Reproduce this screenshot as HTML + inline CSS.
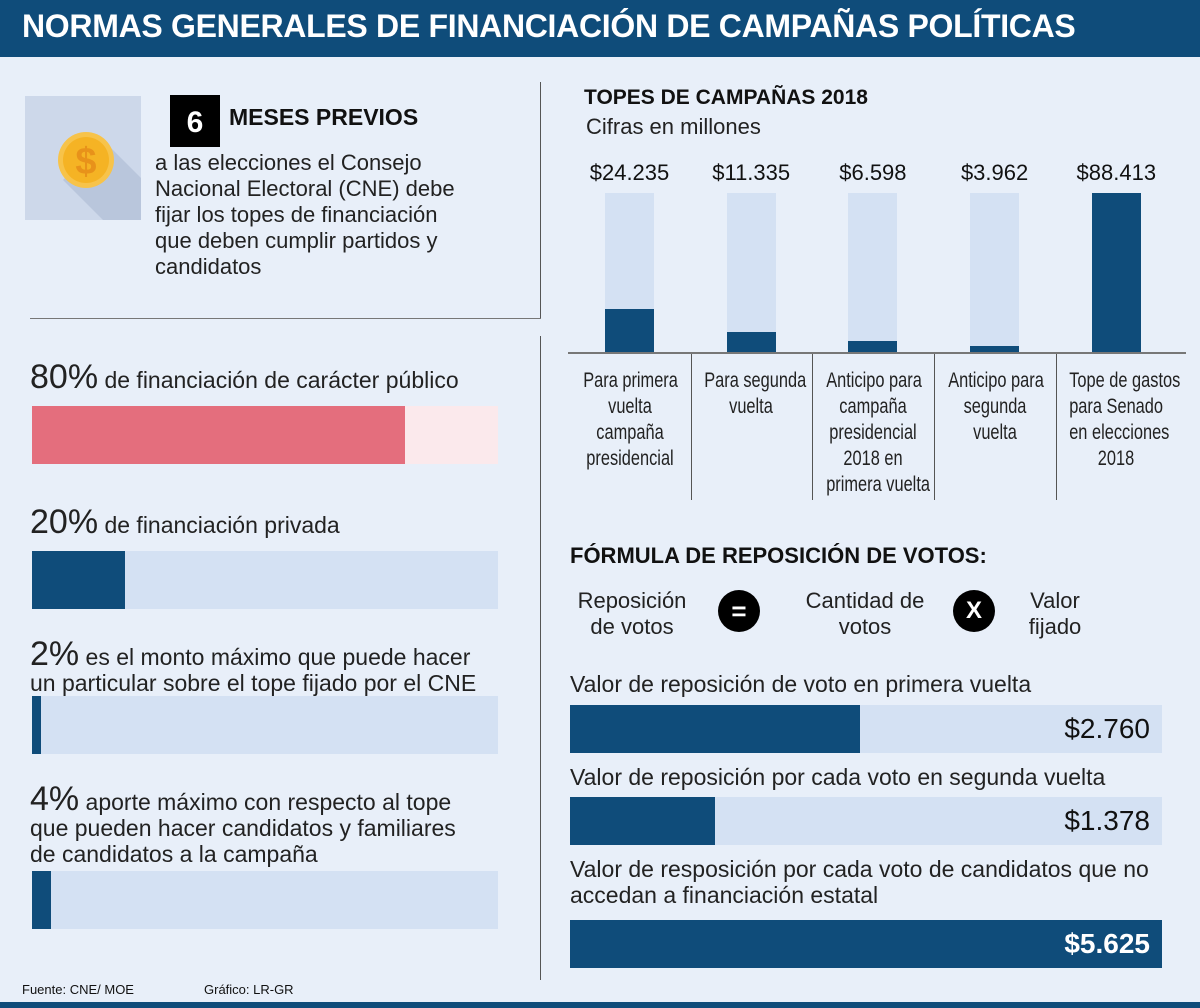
<!DOCTYPE html>
<html><head><meta charset="utf-8">
<style>
*{margin:0;padding:0;box-sizing:border-box}
body{width:1200px;height:1008px;background:#e8eff9;position:relative;overflow:hidden;font-family:"Liberation Sans",sans-serif;color:#111}
.a{position:absolute}
.hdr{left:0;top:0;width:1200px;height:57px;background:#0f4c7a;color:#fff;font-weight:bold;font-size:32px;padding:8px 0 0 22px;letter-spacing:-0.3px}
.t{font-size:22px;line-height:26px;color:#222}
.big{font-size:34px}
.lbl{font-size:21px;line-height:26px;text-align:center;color:#222;white-space:nowrap;transform:scaleX(0.78);transform-origin:50% 0}
.vl{background:#555;width:1px}
.hl{background:#777;height:1px}
</style></head><body>
<div class="a hdr">NORMAS GENERALES DE FINANCIACIÓN DE CAMPAÑAS POLÍTICAS</div>

<svg class="a" style="left:25px;top:96px" width="116" height="124" viewBox="25 96 116 124">
 <rect x="25" y="96" width="116" height="124" fill="#cdd8ea"/>
 <polygon points="103,140 63,180 163,280 203,240" fill="#b9c6dc"/>
 <circle cx="86" cy="160" r="28" fill="#f7c34a"/>
 <circle cx="86" cy="160" r="23" fill="#f5b324"/>
 <text x="86" y="174" text-anchor="middle" font-family="Liberation Sans" font-weight="bold" font-size="38" fill="#e8921a">$</text>
</svg>
<div class="a" style="left:170px;top:95px;width:50px;height:52px;background:#000;color:#fff;font-weight:bold;font-size:30px;text-align:center;line-height:56px">6</div>
<div class="a" style="left:229px;top:104px;font-weight:bold;font-size:23px">MESES PREVIOS</div>
<div class="a t" style="left:155px;top:150px;width:385px">a las elecciones el Consejo<br>Nacional Electoral (CNE) debe<br>fijar los topes de financiación<br>que deben cumplir partidos y<br>candidatos</div>

<div class="a vl" style="left:540px;top:82px;height:236px"></div>
<div class="a hl" style="left:30px;top:318px;width:511px"></div>
<div class="a vl" style="left:540px;top:336px;height:644px"></div>

<div id="left"></div>

<div class="a" style="left:584px;top:86px;font-weight:bold;font-size:21px">TOPES DE CAMPAÑAS 2018</div>
<div class="a t" style="left:586px;top:114px">Cifras en millones</div>
<div id="topes"></div>
<div class="a" style="left:568px;top:352px;width:618px;height:2px;background:#777"></div>

<div class="a" style="left:570px;top:543px;font-weight:bold;font-size:22px">FÓRMULA DE REPOSICIÓN DE VOTOS:</div>
<div class="a t" style="left:570px;top:588px;width:124px;text-align:center">Reposición<br>de votos</div>
<div class="a" style="left:718px;top:590px;width:42px;height:42px;border-radius:50%;background:#000;color:#fff;font-weight:bold;font-size:26px;text-align:center;line-height:42px">=</div>
<div class="a t" style="left:795px;top:588px;width:140px;text-align:center">Cantidad de<br>votos</div>
<div class="a" style="left:953px;top:590px;width:42px;height:42px;border-radius:50%;background:#000;color:#fff;font-weight:bold;font-size:24px;text-align:center;line-height:42px">X</div>
<div class="a t" style="left:1010px;top:588px;width:90px;text-align:center">Valor<br>fijado</div>
<div id="repo"></div>

<div class="a" style="left:22px;top:982px;font-size:13px">Fuente: CNE/ MOE</div>
<div class="a" style="left:204px;top:982px;font-size:13px">Gráfico: LR-GR</div>
<div class="a" style="left:0;top:1002px;width:1200px;height:6px;background:#0f4c7a"></div>

<script>
const pctValues=[80,20,2,4];
const pctLabels=["80%","20%","2%","4%"];
const pctTexts=[" de financiación de carácter público"," de financiación privada"," es el monto máximo que puede hacer<br>un particular sobre el tope fijado por el CNE"," aporte máximo con respecto al tope<br>que pueden hacer candidatos y familiares<br>de candidatos a la campaña"];
const topeCats=["Para primera<br>vuelta<br>campaña<br>presidencial","Para segunda<br>vuelta","Anticipo para<br>campaña<br>presidencial<br>2018 en<br>primera vuelta","Anticipo para<br>segunda<br>vuelta","Tope de gastos<br>para Senado<br>en elecciones<br>2018"];
const topeValues=[24235,11335,6598,3962,88413];
const topeLabels=["$24.235","$11.335","$6.598","$3.962","$88.413"];
const repoCats=["Valor de reposición de voto en primera vuelta","Valor de reposición por cada voto en segunda vuelta","Valor de resposición por cada voto de candidatos que no<br>accedan a financiación estatal"];
const repoValues=[2760,1378,5625];
const repoLabels=["$2.760","$1.378","$5.625"];

function mk(parent,html,style){const d=document.createElement('div');d.className='a';d.style.cssText=style;if(html)d.innerHTML=html;document.getElementById(parent).appendChild(d);return d;}

const lTextTop=[364,509,641,786], lBarTop=[406,551,696,871];
pctValues.forEach((v,i)=>{
 const tx=mk('left','<span class="big">'+pctLabels[i]+'</span>'+pctTexts[i],'left:30px;top:'+lTextTop[i]+'px;width:510px;font-size:23px;line-height:26px;color:#222;white-space:nowrap');
 
 
 const red=i===0;
 const bg=mk('left','','left:32px;top:'+lBarTop[i]+'px;width:466px;height:58px;background:'+(red?'#fbe9ec':'#d4e1f3'));
 
 
 const fg=mk('left','','left:32px;top:'+lBarTop[i]+'px;width:'+(466*v/100)+'px;height:58px;background:'+(red?'#e46e7d':'#0f4c7a'));
 
 
});

const maxT=Math.max(...topeValues), yBase=353, hT=160;
const yScale=v=>hT*v/maxT;
topeValues.forEach((v,i)=>{
 const cx=629.5+i*121.7;
 const tr=mk('topes','','left:'+(cx-24.5)+'px;top:'+(yBase-hT)+'px;width:49px;height:'+hT+'px;background:#d4e1f3');
 
 
 const h=yScale(v);
 const b=mk('topes','','left:'+(cx-24.5)+'px;top:'+(yBase-h)+'px;width:49px;height:'+h+'px;background:#0f4c7a');
 
 
 const vl=mk('topes',topeLabels[i],'left:'+(cx-60)+'px;top:160px;width:120px;text-align:center;font-size:22px;color:#111');
 
 
 const cl=mk('topes','<div class="lbl">'+topeCats[i]+'</div>','left:'+(cx-60)+'px;top:368px;width:120px');
 
 
 if(i>0){const dv=mk('topes','','left:'+(cx-60.5)+'px;top:353px;width:1px;height:147px;background:#555');
 
 }
});

const maxR=Math.max(...repoValues), rW=592, rTextTop=[671,764,856], rBarTop=[705,797,920];
repoValues.forEach((v,i)=>{
 const tx=mk('repo',repoCats[i],'left:570px;top:'+rTextTop[i]+'px;width:630px;font-size:23px;line-height:26px;color:#222;white-space:nowrap');
 
 
 const tr=mk('repo','','left:570px;top:'+rBarTop[i]+'px;width:'+rW+'px;height:48px;background:#d4e1f3');
 
 
 const b=mk('repo','','left:570px;top:'+rBarTop[i]+'px;width:'+(rW*v/maxR)+'px;height:48px;background:#0f4c7a');
 
 
 const full=v===maxR;
 const vl=mk('repo',repoLabels[i],'left:970px;top:'+(rBarTop[i]+8)+'px;width:180px;text-align:right;font-size:28px;'+(full?'color:#fff;font-weight:bold':'color:#111'));
 
 
});
</script>
</body></html>
